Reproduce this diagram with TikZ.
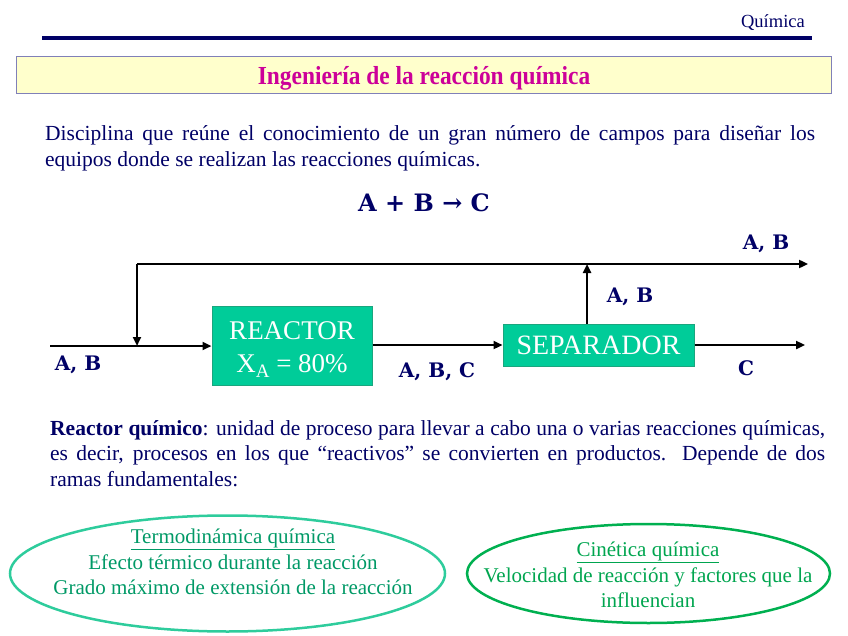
\documentclass[tikz,border=0pt]{standalone}
\usepackage{fontspec}
\setmainfont{Liberation Serif}
\newfontfamily\lblfont{DejaVu Serif}
\newfontfamily\condfont[FakeStretch=0.9]{Liberation Serif}
\usetikzlibrary{arrows.meta}
\definecolor{navy}{HTML}{000066}
\definecolor{magent}{HTML}{CC0099}
\definecolor{paleyellow}{HTML}{FFFFCC}
\definecolor{barborder}{HTML}{8080B8}
\definecolor{boxgreen}{HTML}{00CC99}
\definecolor{boxedge}{HTML}{1AA67E}
\definecolor{tealedge}{HTML}{2ECC9C}
\definecolor{tealtext}{HTML}{009966}
\definecolor{greenedge}{HTML}{00B050}
\definecolor{greentext}{HTML}{00A54F}
\tikzset{
  flow/.style={line width=2.6pt, draw=black},
  flowarrow/.style={flow, -{Triangle[length=9pt,width=8pt]}},
  unitbox/.style={draw=boxedge, line width=1pt, fill=boxgreen, text=white, inner sep=0pt, align=center},
  streamlbl/.style={text=navy, font=\lblfont\bfseries\fontsize{20}{22}\selectfont, inner sep=0pt},
  bodytext/.style={text=navy, inner sep=0pt, align=justify, font=\fontsize{21.5}{25.5}\selectfont},
  ellipsetext/.style={inner sep=0pt, align=center, font=\fontsize{21}{25.5}\selectfont}
}
\begin{document}
\begin{tikzpicture}[x=1pt,y=-1pt]
\useasboundingbox (0,0) rectangle (848,636);
% header
\node[text=navy, font=\fontsize{18.5}{20}\selectfont, anchor=base east, inner sep=0pt] (hdr) at (805,28) {Química};
\coordinate (lineL) at (42,38);
\coordinate (lineR) at (812,38);
\draw[navy, line width=4pt] (lineL) -- (lineR);
% title bar
\node[draw=barborder, line width=1pt, fill=paleyellow, minimum width=815pt, minimum height=37pt, inner sep=0pt] (titlebar) at (423.5,75.5) {};
\node[anchor=base, inner sep=0pt, text=magent, font=\condfont\bfseries\fontsize{26}{28}\selectfont] (title) at (424,84.5) {Ingeniería de la reacción química};
% intro paragraph
\node[bodytext, text width=770pt, anchor=north west] (intro) at (45,125.5)
 {Disciplina que reúne el conocimiento de un gran número de campos para diseñar los\linebreak equipos donde se realizan las reacciones químicas.};
\node[streamlbl, font=\lblfont\bfseries\fontsize{24}{26}\selectfont] (eqn) at (424,203) {A + B → C};
% flow diagram
\node[unitbox, minimum width=160pt, minimum height=79pt, font=\fontsize{27}{33}\selectfont] (reactor) at (292,345.5)
 {\rule{0pt}{26pt}REACTOR\\X\raisebox{-0.22em}{\fontsize{19}{19}\selectfont A} = 80\%};
\node[unitbox, minimum width=191pt, minimum height=42pt, font=\fontsize{28}{30}\selectfont] (sep) at (598.5,345) {SEPARADOR};
\coordinate (inlet) at (50,346);
\coordinate (junc) at (137,346);
\coordinate (rtop) at (137,264);
\coordinate (septop) at (587,264);
\coordinate (topend) at (808,264);
\coordinate (outC) at (805,345);
\draw[flow] (inlet) -- (junc);
\draw[flowarrow] (junc) -- (reactor.west |- junc);
\draw[flowarrow] (reactor.east |- sep) -- (sep.west);
\draw[flowarrow] (sep.east) -- (outC);
\draw[flowarrow] (sep.north -| septop) -- (septop);
\draw[flowarrow] (rtop) -- (topend);
\draw[flowarrow] (rtop) -- (junc);
\node[streamlbl] (lblin) at (78,365) {A, B};
\node[streamlbl] (lblabc) at (437,372) {A, B, C};
\node[streamlbl] (lblc) at (746,368) {C};
\node[streamlbl] (lblmid) at (630,297) {A, B};
\node[streamlbl] (lbltop) at (766,244) {A, B};
% reactor paragraph
\node[bodytext, text width=775pt, anchor=north west] (reactdef) at (50,420)
 {\textbf{Reactor químico}: unidad de proceso para llevar a cabo una o varias reacciones químicas,\linebreak es decir, procesos en los que “reactivos” se convierten en productos. Depende de dos\linebreak ramas fundamentales:};
% ellipses
\draw[tealedge, line width=2.5pt] (227.5,573.5) ellipse [x radius=217.5, y radius=58];
\draw[greenedge, line width=2.5pt] (648.5,573.5) ellipse [x radius=181.5, y radius=49.5];
\node[ellipsetext, text=tealtext] (thermo) at (233,562)
 {\underline{Termodinámica química}\\Efecto térmico durante la reacción\\Grado máximo de extensión de la reacción};
\node[ellipsetext, text=greentext] (kinet) at (648,575)
 {\underline{Cinética química}\\Velocidad de reacción y factores que la\\influencian};
\end{tikzpicture}
\end{document}
